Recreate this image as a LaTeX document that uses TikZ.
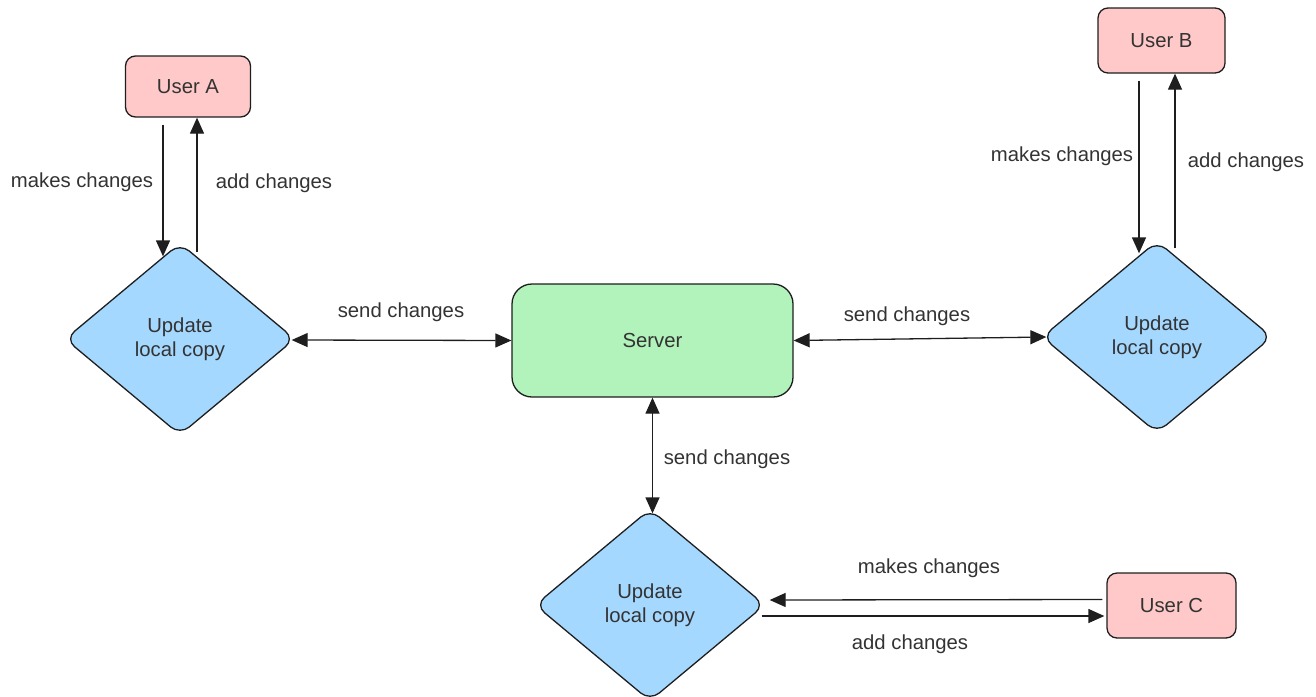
\documentclass[tikz,border=0pt]{standalone}
\usepackage{fontspec}
\setmainfont{Liberation Sans}
\usetikzlibrary{shapes.geometric,arrows.meta,calc}
\definecolor{userfill}{HTML}{FFC9C9}
\definecolor{srvfill}{HTML}{B2F2BB}
\definecolor{updfill}{HTML}{A5D8FF}
\definecolor{txt}{HTML}{333333}
\definecolor{ln}{HTML}{1E1E1E}
\begin{document}
\begin{tikzpicture}[x=1pt,y=-1pt,
  every node/.style={font=\fontsize{20.3}{24.5}\selectfont, text=txt},
  userbox/.style={draw=ln, line width=1.3pt, fill=userfill, rounded corners=10pt, inner sep=0pt},
  srvbox/.style={draw=ln, line width=1.3pt, fill=srvfill, rounded corners=20pt, inner sep=0pt, minimum width=281pt, minimum height=113pt},
  updbox/.style={diamond, draw=ln, line width=1.3pt, fill=updfill, rounded corners=12pt, inner sep=0pt, minimum width=230pt, minimum height=192pt, align=center},
  conn/.style={draw=ln, line width=1.3pt, -{Triangle[length=16pt,width=14pt]}},
  conn2/.style={draw=ln, line width=1.3pt, {Triangle[length=16pt,width=14pt]}-{Triangle[length=16pt,width=14pt]}},
  lbl/.style={inner sep=0pt}
]
\useasboundingbox (0,0) rectangle (1316,696);

\node[userbox, minimum width=125pt, minimum height=61pt] (ua) at (188,86.5) {User A};
\node[userbox, minimum width=127pt, minimum height=65pt] (ub) at (1161.5,40.5) {User B};
\node[userbox, minimum width=129pt, minimum height=65pt] (uc) at (1171.5,605.5) {User C};

\node[srvbox] (sv) at (652.5,340.5) {Server};

\node[updbox] (da) at (180,339) {Update\\local copy};
\node[updbox] (db) at (1157,337) {Update\\local copy};
\node[updbox] (dc) at (650,605) {Update\\local copy};

% User A
\draw[conn] ($(ua.south)+(-25,7)$) -- ($(da.north)+(-17,14)$);
\draw[conn] ($(da.north)+(17,10)$) -- ($(ua.south)+(9,0)$);
\node[lbl] (la1) at (82,182) {makes changes};
\node[lbl] (la2) at (274,183) {add changes};

% User B
\draw[conn] ($(ub.south)+(-22.5,7)$) -- ($(db.north)+(-18,13)$);
\draw[conn] ($(db.north)+(18,8)$) -- ($(ub.south)+(13.5,0)$);
\node[lbl] (lb1) at (1062,156) {makes changes};
\node[lbl] (lb2) at (1246,162) {add changes};

% User C
\draw[conn] ($(uc.west)+(-4,-6)$) -- ($(dc.east)+(4,-5)$);
\draw[conn] ($(dc.east)+(-4,11)$) -- ($(uc.west)+(-2,10.5)$);
\node[lbl] (lc1) at (929,568) {makes changes};
\node[lbl] (lc2) at (910,644) {add changes};

% server links
\draw[conn2] ($(da.east)+(-4,1)$) -- (sv.west);
\node[lbl] (ls1) at (401,312) {send changes};
\draw[conn2] (sv.east) -- ($(db.west)+(5,0)$);
\node[lbl] (ls2) at (907,316) {send changes};
\draw[conn2] (sv.south) -- ($(sv.south |- dc.north)+(0,5)$);
\node[lbl] (ls3) at (727,459) {send changes};
\end{tikzpicture}
\end{document}
